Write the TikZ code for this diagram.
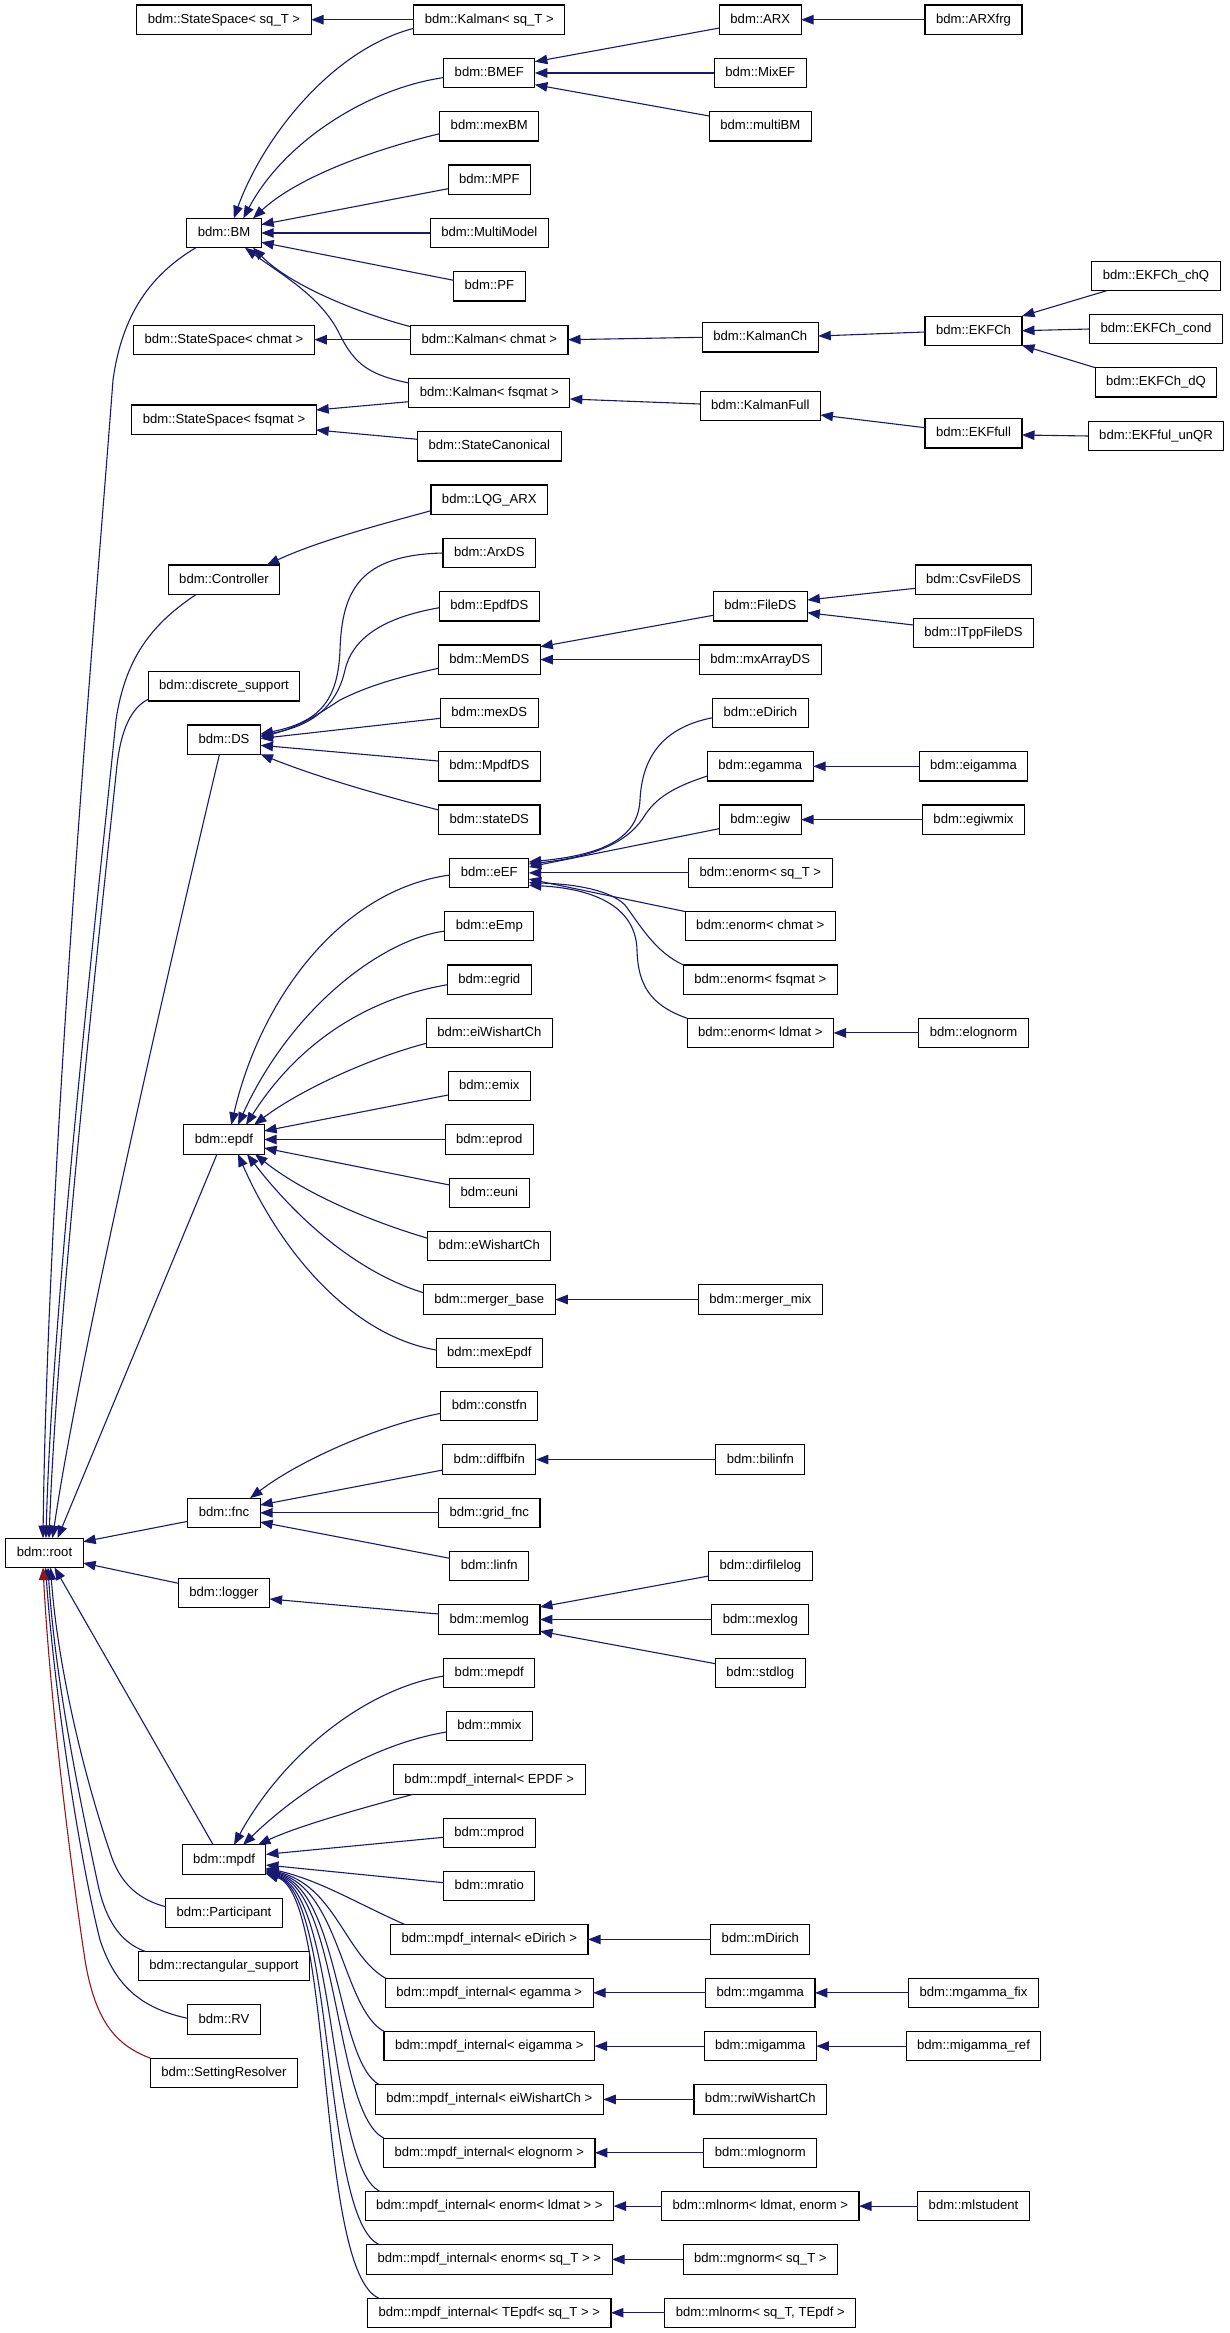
\documentclass[tikz,border=0pt]{standalone}
\usepackage{fontspec}
\setmainfont{Liberation Sans}
\usetikzlibrary{arrows.meta}
\definecolor{edgeblue}{HTML}{191970}
\definecolor{edgered}{HTML}{8B1A1A}
\begin{document}
\begin{tikzpicture}[x=1pt,y=-1pt,
  box/.style={draw=black, line width=1.1pt, fill=white, inner xsep=11pt, inner ysep=0pt, outer sep=0pt,
    minimum height=29.3pt, font=\fontsize{13.1}{15}\selectfont, text height=9.6pt, text depth=2.6pt},
  inh/.style={edgeblue, line width=1.1pt, -{Triangle[length=12.5pt,width=9.5pt]}},
  inhred/.style={inh, edgered}]
\fill[white] (0,0) rectangle (1229,2333);
\useasboundingbox (0,0) rectangle (1229,2333);
% ---------------- nodes ----------------
\node[box] (SSsq) at (224,19.7) {bdm::StateSpace< sq\_T >};
\node[box] (Ksq) at (489.3,19.7) {bdm::Kalman< sq\_T >};
\node[box] (ARX) at (760.3,19.7) {bdm::ARX};
\node[box] (ARXfrg) at (973.5,19.7) {bdm::ARXfrg};
\node[box] (BMEF) at (489.3,73) {bdm::BMEF};
\node[box] (MixEF) at (760.3,73) {bdm::MixEF};
\node[box] (mexBM) at (489.3,126.4) {bdm::mexBM};
\node[box] (multiBM) at (760.3,126.4) {bdm::multiBM};
\node[box] (MPF) at (489.3,179.7) {bdm::MPF};
\node[box] (BM) at (224,233) {bdm::BM};
\node[box] (MM) at (489.3,233) {bdm::MultiModel};
\node[box] (PF) at (489.3,286.3) {bdm::PF};
\node[box] (chQ) at (1156,276) {bdm::EKFCh\_chQ};
\node[box] (SSch) at (224,339.7) {bdm::StateSpace< chmat >};
\node[box] (Kch) at (489.3,339.7) {bdm::Kalman< chmat >};
\node[box] (KCh) at (760.3,337.3) {bdm::KalmanCh};
\node[box] (EKFCh) at (973.5,330.7) {bdm::EKFCh};
\node[box] (cond) at (1156,329) {bdm::EKFCh\_cond};
\node[box] (dQ) at (1156,382.3) {bdm::EKFCh\_dQ};
\node[box] (Kfs) at (489.3,393) {bdm::Kalman< fsqmat >};
\node[box] (SSfs) at (224,419.6) {bdm::StateSpace< fsqmat >};
\node[box] (KF) at (760.3,406) {bdm::KalmanFull};
\node[box] (EKFfull) at (973.5,433.3) {bdm::EKFfull};
\node[box] (unQR) at (1156,436) {bdm::EKFful\_unQR};
\node[box] (SC) at (489.3,446.3) {bdm::StateCanonical};
\node[box] (LQG) at (489.3,499.6) {bdm::LQG\_ARX};
\node[box] (Ctrl) at (224,579.6) {bdm::Controller};
\node[box] (ArxDS) at (489.3,553) {bdm::ArxDS};
\node[box] (Csv) at (973.5,579.6) {bdm::CsvFileDS};
\node[box] (EpdfDS) at (489.3,606.3) {bdm::EpdfDS};
\node[box] (FileDS) at (760.3,606.3) {bdm::FileDS};
\node[box] (ITpp) at (973.5,632.9) {bdm::ITppFileDS};
\node[box] (MemDS) at (489.3,659.6) {bdm::MemDS};
\node[box] (mxA) at (760.3,659.6) {bdm::mxArrayDS};
\node[box] (dsup) at (224,686.3) {bdm::discrete\_support};
\node[box] (mexDS) at (489.3,712.9) {bdm::mexDS};
\node[box] (eDirich) at (760.3,712.9) {bdm::eDirich};
\node[box] (DS) at (224,739.6) {bdm::DS};
\node[box] (MpdfDS) at (489.3,766.3) {bdm::MpdfDS};
\node[box] (egamma) at (760.3,766.3) {bdm::egamma};
\node[box] (eigamma) at (973.5,766.3) {bdm::eigamma};
\node[box] (stateDS) at (489.3,819.6) {bdm::stateDS};
\node[box] (egiw) at (760.3,819.6) {bdm::egiw};
\node[box] (egiwmix) at (973.5,819.6) {bdm::egiwmix};
\node[box] (eEF) at (489.3,872.9) {bdm::eEF};
\node[box] (ensq) at (760.3,872.9) {bdm::enorm< sq\_T >};
\node[box] (eEmp) at (489.3,926.2) {bdm::eEmp};
\node[box] (ench) at (760.3,926.2) {bdm::enorm< chmat >};
\node[box] (egrid) at (489.3,979.6) {bdm::egrid};
\node[box] (enfs) at (760.3,979.6) {bdm::enorm< fsqmat >};
\node[box] (eiW) at (489.3,1032.9) {bdm::eiWishartCh};
\node[box] (enld) at (760.3,1032.9) {bdm::enorm< ldmat >};
\node[box] (elognorm) at (973.5,1032.9) {bdm::elognorm};
\node[box] (emix) at (489.3,1086.2) {bdm::emix};
\node[box] (epdf) at (224,1139.5) {bdm::epdf};
\node[box] (eprod) at (489.3,1139.5) {bdm::eprod};
\node[box] (euni) at (489.3,1192.9) {bdm::euni};
\node[box] (eW) at (489.3,1246.2) {bdm::eWishartCh};
\node[box] (mb) at (489.3,1299.5) {bdm::merger\_base};
\node[box] (mm) at (760.3,1299.5) {bdm::merger\_mix};
\node[box] (mexEpdf) at (489.3,1352.9) {bdm::mexEpdf};
\node[box] (constfn) at (489.3,1406.2) {bdm::constfn};
\node[box] (diffbifn) at (489.3,1459.5) {bdm::diffbifn};
\node[box] (bilinfn) at (760.3,1459.5) {bdm::bilinfn};
\node[box] (fnc) at (224,1512.8) {bdm::fnc};
\node[box] (gridfnc) at (489.3,1512.8) {bdm::grid\_fnc};
\node[box] (root) at (44.5,1552.8) {bdm::root};
\node[box] (linfn) at (489.3,1566.2) {bdm::linfn};
\node[box] (dfl) at (760.3,1566.2) {bdm::dirfilelog};
\node[box] (logger) at (224,1592.8) {bdm::logger};
\node[box] (memlog) at (489.3,1619.5) {bdm::memlog};
\node[box] (mexlog) at (760.3,1619.5) {bdm::mexlog};
\node[box] (stdlog) at (760.3,1672.8) {bdm::stdlog};
\node[box] (mepdf) at (489.3,1672.8) {bdm::mepdf};
\node[box] (mmix) at (489.3,1726.1) {bdm::mmix};
\node[box] (iEPDF) at (489.3,1779.5) {bdm::mpdf\_internal< EPDF >};
\node[box] (mprod) at (489.3,1832.8) {bdm::mprod};
\node[box] (mpdf) at (224,1859.5) {bdm::mpdf};
\node[box] (mratio) at (489.3,1886.1) {bdm::mratio};
\node[box] (Part) at (224,1912.8) {bdm::Participant};
\node[box] (ieD) at (489.3,1939.4) {bdm::mpdf\_internal< eDirich >};
\node[box] (mDirich) at (760.3,1939.4) {bdm::mDirich};
\node[box] (rect) at (224,1966.1) {bdm::rectangular\_support};
\node[box] (ieg) at (489.3,1992.8) {bdm::mpdf\_internal< egamma >};
\node[box] (mgamma) at (760.3,1992.8) {bdm::mgamma};
\node[box] (mgfix) at (973.5,1992.8) {bdm::mgamma\_fix};
\node[box] (RV) at (224,2019.5) {bdm::RV};
\node[box] (ieig) at (489.3,2046.1) {bdm::mpdf\_internal< eigamma >};
\node[box] (migamma) at (760.3,2046.1) {bdm::migamma};
\node[box] (migref) at (973.5,2046.1) {bdm::migamma\_ref};
\node[box] (SR) at (224,2072.8) {bdm::SettingResolver};
\node[box] (ieW) at (489.3,2099.4) {bdm::mpdf\_internal< eiWishartCh >};
\node[box] (rwi) at (760.3,2099.4) {bdm::rwiWishartCh};
\node[box] (iel) at (489.3,2152.7) {bdm::mpdf\_internal< elognorm >};
\node[box] (mlognorm) at (760.3,2152.7) {bdm::mlognorm};
\node[box] (ienl) at (489.3,2206.1) {bdm::mpdf\_internal< enorm< ldmat > >};
\node[box] (mlnld) at (760.3,2206.1) {bdm::mlnorm< ldmat, enorm >};
\node[box] (mlst) at (973.5,2206.1) {bdm::mlstudent};
\node[box] (iens) at (489.3,2259.4) {bdm::mpdf\_internal< enorm< sq\_T > >};
\node[box] (mgnorm) at (760.3,2259.4) {bdm::mgnorm< sq\_T >};
\node[box] (ieT) at (489.3,2312.7) {bdm::mpdf\_internal< TEpdf< sq\_T > >};
\node[box] (mlnsq) at (760.3,2312.7) {bdm::mlnorm< sq\_T, TEpdf >};
% ---------------- edges: BM ----------------
\draw[inh] ([yshift=-8.6pt]Ksq.west) .. controls (330,50) and (262,140) .. ([xshift=9.8pt]BM.north);
\draw[inh] ([yshift=-4.6pt]BMEF.west) .. controls (370,88) and (285,140) .. ([xshift=19.3pt]BM.north);
\draw[inh] ([yshift=-7.3pt]mexBM.west) .. controls (380,148) and (300,175) .. ([xshift=29pt]BM.north);
\draw[inh] ([yshift=-9pt]MPF.west) -- ([yshift=8.4pt]BM.east);
\draw[inh] (MM.west) -- (BM.east);
\draw[inh] ([yshift=6pt]PF.west) -- ([yshift=-9.3pt]BM.east);
\draw[inh] ([yshift=13pt]Kch.west) .. controls (355,312) and (290,285) .. ([xshift=29pt]BM.south);
\draw[inh] ([yshift=10pt]Kfs.west) .. controls (370,375) and (355,365) .. (340,335) .. controls (322,297) and (282,275) .. ([xshift=21pt]BM.south);
% StateSpace
\draw[inh] (Ksq.west) -- (SSsq.east);
\draw[inh] (Kch.west) -- (SSch.east);
\draw[inh] ([yshift=-8.7pt]Kfs.west) -- ([yshift=9.6pt]SSfs.east);
\draw[inh] ([yshift=7pt]SC.west) -- ([yshift=-10.4pt]SSfs.east);
% BMEF
\draw[inh] ([yshift=-8.3pt]ARX.west) -- ([yshift=11.3pt]BMEF.east);
\draw[inh] (MixEF.west) -- (BMEF.east);
\draw[inh] ([yshift=10.4pt]multiBM.west) -- ([yshift=-11.7pt]BMEF.east);
\draw[inh] (ARXfrg.west) -- (ARX.east);
% Kalman chain
\draw[inh] (KCh.west) -- (Kch.east);
\draw[inh] ([yshift=2pt]KF.west) -- ([yshift=-6pt]Kfs.east);
\draw[inh] ([yshift=-1.3pt]EKFCh.west) -- ([yshift=1.3pt]KCh.east);
\draw[inh] ([yshift=5.6pt]EKFfull.west) -- ([yshift=-9pt]KF.east);
\draw[inh] ([xshift=15pt]chQ.south west) -- (EKFCh.north east);
\draw[inh] (cond.west) -- (EKFCh.east);
\draw[inh] (dQ.north west) -- (EKFCh.south east);
\draw[inh] (unQR.west) -- ([yshift=-1.7pt]EKFfull.east);
% Controller
\draw[inh] ([yshift=-11.1pt]LQG.west) .. controls (390,522) and (320,540) .. ([xshift=-13pt]Ctrl.north east);
% DS
\draw[inh] (ArxDS.west) .. controls (360,555) and (342,590) .. (340,650) .. controls (338,700) and (320,722) .. ([yshift=5.6pt]DS.east);
\draw[inh] ([yshift=-1.4pt]EpdfDS.west) .. controls (380,618) and (352,640) .. (345,670) .. controls (335,715) and (300,728) .. ([yshift=4.1pt]DS.east);
\draw[inh] ([yshift=-8.7pt]MemDS.west) .. controls (385,680) and (360,690) .. (340,700) .. controls (320,713) and (300,727) .. ([yshift=2.6pt]DS.east);
\draw[inh] ([yshift=-5.4pt]mexDS.west) -- ([yshift=1.1pt]DS.east);
\draw[inh] ([yshift=5.3pt]MpdfDS.west) -- ([yshift=-5.7pt]DS.east);
\draw[inh] ([yshift=9.6pt]stateDS.west) .. controls (380,795) and (320,778) .. (DS.south east);
% MemDS
\draw[inh] ([yshift=-9pt]FileDS.west) -- ([yshift=12.9pt]MemDS.east);
\draw[inh] (mxA.west) -- (MemDS.east);
\draw[inh] ([yshift=-8.7pt]Csv.west) -- ([yshift=6.3pt]FileDS.east);
\draw[inh] ([yshift=7.9pt]ITpp.west) -- ([yshift=-6.4pt]FileDS.east);
% eEF
\draw[inh] ([yshift=-4.8pt]eDirich.west) .. controls (660,728) and (642,760) .. (640,800) .. controls (638,840) and (600,855) .. ([yshift=10.9pt]eEF.east);
\draw[inh] ([yshift=-9.7pt]egamma.west) .. controls (670,788) and (655,800) .. (645,815) .. controls (630,840) and (600,856) .. ([yshift=8.9pt]eEF.east);
\draw[inh] ([yshift=-9pt]egiw.west) -- ([yshift=5.9pt]eEF.east);
\draw[inh] (ensq.west) -- (eEF.east);
\draw[inh] (ench.north west) -- ([yshift=-6.1pt]eEF.east);
\draw[inh] (enfs.north west) .. controls (655,952) and (640,925) .. (625,905) .. controls (610,890) and (575,884) .. ([yshift=-9.8pt]eEF.east);
\draw[inh] (enld.north west) .. controls (650,1005) and (638,985) .. (637,950) .. controls (636,910) and (600,889) .. ([yshift=-12.3pt]eEF.east);
\draw[inh] (eigamma.west) -- (egamma.east);
\draw[inh] (egiwmix.west) -- (egiw.east);
\draw[inh] (elognorm.west) -- (enld.east);
% epdf
\draw[inh] ([yshift=-2.1pt]eEF.west) .. controls (340,890) and (260,1000) .. ([xshift=7.3pt]epdf.north);
\draw[inh] ([yshift=-4.8pt]eEmp.west) .. controls (380,940) and (290,1010) .. ([xshift=14pt]epdf.north);
\draw[inh] ([yshift=-5.1pt]egrid.west) .. controls (370,998) and (300,1040) .. ([xshift=22pt]epdf.north);
\draw[inh] ([yshift=-10.4pt]eiW.west) .. controls (370,1058) and (300,1090) .. ([xshift=30pt]epdf.north);
\draw[inh] ([yshift=-8.8pt]emix.west) -- ([yshift=8.5pt]epdf.east);
\draw[inh] (eprod.west) -- (epdf.east);
\draw[inh] ([yshift=7.9pt]euni.west) -- ([yshift=-8.5pt]epdf.east);
\draw[inh] ([yshift=7.9pt]eW.west) .. controls (360,1218) and (300,1190) .. ([xshift=31pt]epdf.south);
\draw[inh] ([yshift=6.8pt]mb.west) .. controls (350,1270) and (290,1210) .. ([xshift=23pt]epdf.south);
\draw[inh] ([yshift=2.9pt]mexEpdf.west) .. controls (350,1335) and (280,1250) .. ([xshift=14pt]epdf.south);
\draw[inh] (mm.west) -- (mb.east);
% fnc
\draw[inh] ([yshift=-7.1pt]constfn.west) .. controls (380,1425) and (300,1460) .. ([xshift=-10pt]fnc.north east);
\draw[inh] ([yshift=-10.5pt]diffbifn.west) -- ([yshift=7.8pt]fnc.east);
\draw[inh] (gridfnc.west) -- (fnc.east);
\draw[inh] ([yshift=7.9pt]linfn.west) -- ([yshift=-9.2pt]fnc.east);
\draw[inh] (bilinfn.west) -- (diffbifn.east);
% logger
\draw[inh] ([yshift=5.5pt]memlog.west) -- ([yshift=-6.2pt]logger.east);
\draw[inh] ([yshift=-9.8pt]dfl.west) -- ([yshift=12.5pt]memlog.east);
\draw[inh] (mexlog.west) -- (memlog.east);
\draw[inh] ([yshift=9.1pt]stdlog.west) -- ([yshift=-11.7pt]memlog.east);
% mpdf
\draw[inh] ([yshift=-3.2pt]mepdf.west) .. controls (360,1690) and (280,1760) .. ([xshift=10pt]mpdf.north);
\draw[inh] ([yshift=-5.9pt]mmix.west) .. controls (370,1745) and (300,1790) .. ([xshift=19pt]mpdf.north);
\draw[inh] ([xshift=20pt]iEPDF.south west) .. controls (370,1806) and (300,1825) .. ([xshift=-8pt]mpdf.north east);
\draw[inh] ([yshift=-4.5pt]mprod.west) -- ([yshift=5.2pt]mpdf.east);
\draw[inh] ([yshift=3.4pt]mratio.west) -- ([yshift=-5.5pt]mpdf.east);
\draw[inh] ([xshift=15pt]ieD.north west) .. controls (360,1905) and (320,1880) .. ([yshift=-8.6pt]mpdf.east);
\draw[inh] (ieg.north west) .. controls (345,1955) and (335,1885) .. ([yshift=-9.8pt]mpdf.east);
\draw[inh] (ieig.north west) .. controls (342,2008) and (340,1888) .. ([yshift=-10.8pt]mpdf.east);
\draw[inh] ([xshift=4pt]ieW.north west) .. controls (336,2060) and (340,1890) .. ([yshift=-11.6pt]mpdf.east);
\draw[inh] (iel.north west) .. controls (334,2112) and (340,1892) .. ([yshift=-12.4pt]mpdf.east);
\draw[inh] ([xshift=15pt]ienl.north west) .. controls (328,2166) and (338,1894) .. ([yshift=-13pt]mpdf.east);
\draw[inh] ([xshift=13pt]iens.north west) .. controls (322,2220) and (336,1895) .. ([yshift=-13.6pt]mpdf.east);
\draw[inh] ([xshift=11pt]ieT.north west) .. controls (316,2270) and (334,1896) .. ([yshift=-14.2pt]mpdf.east);
\draw[inh] (mDirich.west) -- (ieD.east);
\draw[inh] (mgamma.west) -- (ieg.east);
\draw[inh] (mgfix.west) -- (mgamma.east);
\draw[inh] (migamma.west) -- (ieig.east);
\draw[inh] (migref.west) -- (migamma.east);
\draw[inh] (rwi.west) -- (ieW.east);
\draw[inh] (mlognorm.west) -- (iel.east);
\draw[inh] (mlnld.west) -- (ienl.east);
\draw[inh] (mlst.west) -- (mlnld.east);
\draw[inh] (mgnorm.west) -- (iens.east);
\draw[inh] (mlnsq.west) -- (ieT.east);
% root
\draw[inh] ([xshift=-28pt]BM.south) .. controls (150,275) and (122,315) .. (113,380) .. controls (95,620) and (48,1150) .. ([xshift=-1.5pt]root.north);
\draw[inh] ([xshift=-27.5pt]Ctrl.south) .. controls (150,625) and (125,660) .. (116,720) .. controls (100,880) and (52,1300) .. ([xshift=1.5pt]root.north);
\draw[inh] ([yshift=-13pt]dsup.west) .. controls (135,706) and (122,722) .. (117,765) .. controls (103,900) and (58,1300) .. ([xshift=4.5pt]root.north);
\draw[inh] ([xshift=-4.5pt]DS.south) .. controls (180,920) and (80,1350) .. ([xshift=8pt]root.north);
\draw[inh] ([xshift=-7pt]epdf.south) -- ([xshift=13pt]root.north);
\draw[inh] ([yshift=-8.5pt]fnc.west) -- ([yshift=11.1pt]root.east);
\draw[inh] ([yshift=9.5pt]logger.west) -- ([yshift=-10.2pt]root.east);
\draw[inh] ([xshift=-10.8pt]mpdf.north) -- ([xshift=10pt]root.south);
\draw[inh] ([yshift=6.1pt]Part.west) .. controls (140,1900) and (122,1885) .. (112,1858) .. controls (85,1780) and (58,1670) .. ([xshift=6pt]root.south);
\draw[inh] ([xshift=6.8pt]rect.north west) .. controls (120,1942) and (105,1920) .. (97,1880) .. controls (80,1800) and (55,1680) .. ([xshift=3.5pt]root.south);
\draw[inh] ([yshift=1.2pt]RV.west) .. controls (140,2008) and (115,1985) .. (100,1940) .. controls (80,1860) and (55,1700) .. ([xshift=1pt]root.south);
\draw[inhred] (SR.north west) .. controls (115,2045) and (95,2020) .. (85,1960) .. controls (70,1860) and (50,1700) .. ([xshift=-1.5pt]root.south);
\end{tikzpicture}
\end{document}
